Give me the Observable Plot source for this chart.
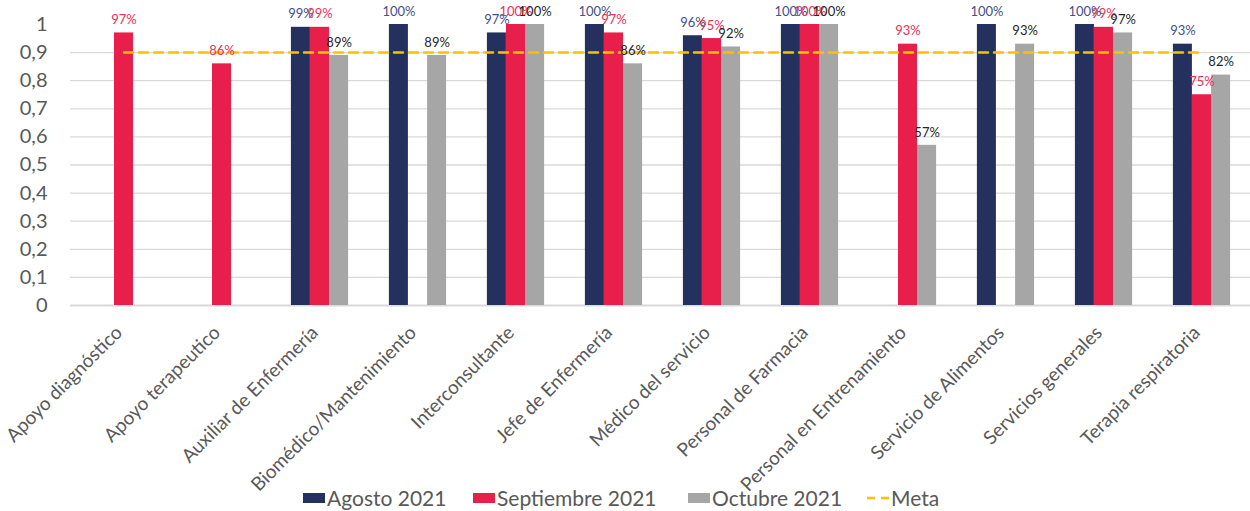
<!DOCTYPE html>
<html>
<head>
<meta charset="utf-8">
<script src="https://cdn.jsdelivr.net/npm/d3@7"></script>
<script src="https://cdn.jsdelivr.net/npm/@observablehq/plot@0.6"></script>
<style>
  html, body { margin: 0; padding: 0; background: #fff; }
  body { font-family: Lato, "Open Sans", sans-serif; width: 1250px; height: 511px; overflow: hidden; }
  #chart svg { display: block; overflow: visible; }
  #legend { position: relative; height: 27px; color: #595959; font-size: 21px; }
  .item { position: absolute; top: 0; height: 27px; display: flex; align-items: center; white-space: nowrap; }
  .sw { width: 22px; height: 10px; margin-right: 2px; }
</style>
</head>
<body>
<div id="chart"></div>
<div id="legend"></div>
<script>
const categories = [
  "Apoyo diagnóstico", "Apoyo terapeutico", "Auxiliar de Enfermería", "Biomédico/Mantenimiento",
  "Interconsultante", "Jefe de Enfermería", "Médico del servicio", "Personal de Farmacia",
  "Personal en Entrenamiento", "Servicio de Alimentos", "Servicios generales", "Terapia respiratoria"
];
const agosto2021     = [null, null, 0.99, 1.00, 0.97, 1.00, 0.96, 1.00, null, 1.00, 1.00, 0.93];
const septiembre2021 = [0.97, 0.86, 0.99, null, 1.00, 0.97, 0.95, 1.00, 0.93, null, 0.99, 0.75];
const octubre2021    = [null, null, 0.89, 0.89, 1.00, 0.86, 0.92, 1.00, 0.57, 0.93, 0.97, 0.82];
const metaValue = 0.9;
const seriesNames = ["Agosto 2021", "Septiembre 2021", "Octubre 2021"];
const seriesColors = ["#24305E", "#E81F4B", "#A6A6A6"];
const labelColors = ["#44508A", "#E8325A", "#262626"];
const metaName = "Meta";
const metaColor = "#FFC000";
const yTicks = [0, 0.1, 0.2, 0.3, 0.4, 0.5, 0.6, 0.7, 0.8, 0.9, 1];
const gridTicks = [0.1, 0.2, 0.3, 0.4, 0.5, 0.6, 0.7, 0.8, 0.9];

const seriesValues = [agosto2021, septiembre2021, octubre2021];
const barStep = 19.1;
const offsets = [-barStep, 0, barStep];

const rowsFor = (arr) => categories.map((c, i) => ({cat: c, value: arr[i]})).filter(d => d.value != null);
const pct = d3.format(".0%");

const marks = [
  Plot.ruleY(gridTicks, {stroke: "#D9D9D9", strokeWidth: 1.3}),
  Plot.ruleY([0], {stroke: "#D9D9D9", strokeWidth: 2})
];
seriesValues.forEach((arr, s) => {
  marks.push(Plot.barY(rowsFor(arr), {x: "cat", y: "value", fill: seriesColors[s], dx: offsets[s]}));
});
marks.push(Plot.lineY(categories, {x: d => d, y: () => metaValue, stroke: metaColor, strokeWidth: 2.5, strokeDasharray: "9,6"}));
seriesValues.forEach((arr, s) => {
  marks.push(Plot.text(rowsFor(arr), {x: "cat", y: "value", text: d => pct(d.value), fill: labelColors[s], dx: offsets[s], dy: -13, fontSize: 13, lineAnchor: "middle"}));
});
marks.push(Plot.axisY({ticks: yTicks, tickFormat: d => String(d).replace(".", ","), tickSize: 0, tickPadding: 23, fontSize: 20, fill: "#595959"}));
marks.push(Plot.axisX({tickRotate: -45, tickSize: 0, tickPadding: 24, dx: -5, fontSize: 19, fill: "#595959"}));

const chart = Plot.plot({
  width: 1250,
  height: 484,
  marginTop: 24,
  marginBottom: 179,
  marginLeft: 70,
  marginRight: 0,
  style: {fontFamily: "Lato, 'Open Sans', sans-serif", background: "#fff", color: "#595959", overflow: "visible"},
  x: {domain: categories, range: [70, 1255], paddingInner: 0.807, paddingOuter: 0.4035, label: null},
  y: {domain: [0, 1], label: null},
  marks
});
document.getElementById("chart").appendChild(chart);

const legend = document.getElementById("legend");
const legendLefts = [303, 473, 688, 866];
seriesNames.forEach((name, s) => {
  const it = document.createElement("div");
  it.className = "item";
  it.style.left = legendLefts[s] + "px";
  it.innerHTML = `<div class="sw" style="background:${seriesColors[s]}"></div><span>${name}</span>`;
  legend.appendChild(it);
});
const m = document.createElement("div");
m.className = "item";
m.style.left = legendLefts[3] + "px";
m.innerHTML = `<svg width="25" height="10"><line x1="1" y1="5" x2="24" y2="5" stroke="${metaColor}" stroke-width="2.5" stroke-dasharray="8,6"/></svg><span>${metaName}</span>`;
legend.appendChild(m);
</script>
</body>
</html>
